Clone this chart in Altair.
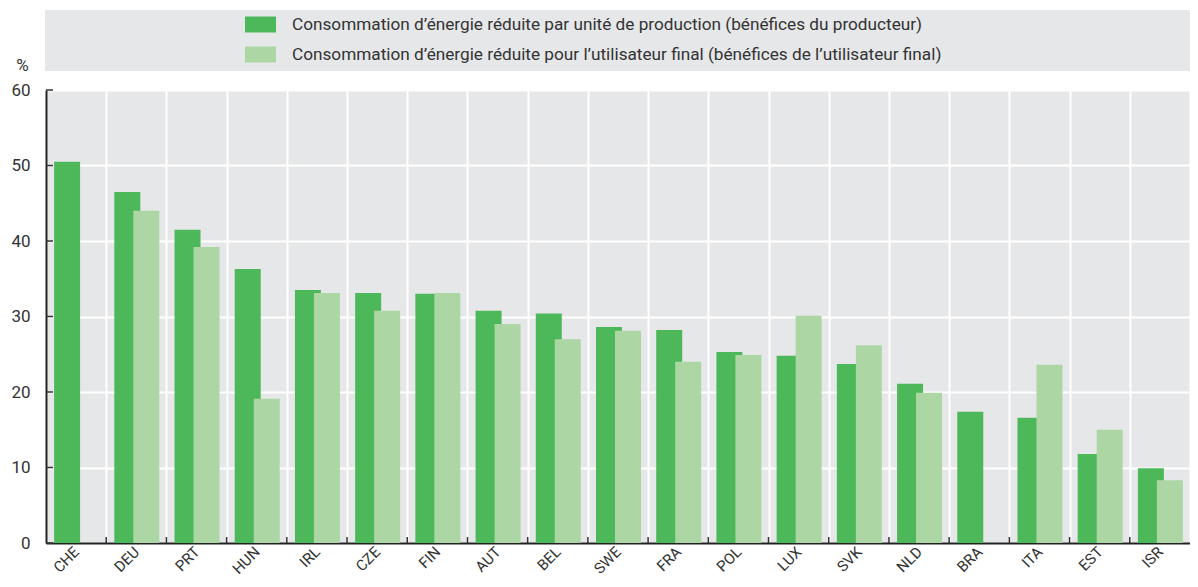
import altair as alt
import pandas as pd

countries = ["CHE", "DEU", "PRT", "HUN", "IRL", "CZE", "FIN", "AUT", "BEL", "SWE",
             "FRA", "POL", "LUX", "SVK", "NLD", "BRA", "ITA", "EST", "ISR"]
producer = [50.5, 46.5, 41.5, 36.3, 33.5, 33.1, 33.0, 30.75, 30.4, 28.6,
            28.2, 25.3, 24.8, 23.7, 21.1, 17.4, 16.6, 11.8, 9.9]
user = [None, 44.0, 39.2, 19.1, 33.1, 30.75, 33.1, 29.0, 27.0, 28.1,
        24.0, 24.9, 30.1, 26.2, 19.9, None, 23.6, 15.0, 8.3]
y_ticks = [0, 10, 20, 30, 40, 50, 60]

series = [
    "Consommation d’énergie réduite par unité de production (bénéfices du producteur)",
    "Consommation d’énergie réduite pour l’utilisateur final (bénéfices de l’utilisateur final)",
]
colors = ["#4db85a", "#acd7a5"]

rows = []
for c, p, u in zip(countries, producer, user):
    rows.append({"country": c, "series": series[0], "value": p})
    if u is not None:
        rows.append({"country": c, "series": series[1], "value": u})
df = pd.DataFrame(rows)

FONT = "Roboto"
W = 1144
H = 453

xscale = alt.Scale(domain=countries, paddingInner=0, paddingOuter=0)
yscale = alt.Scale(domain=[0, 60], nice=False)

x_axis = alt.Axis(title=None, labelAngle=315, labelAlign="right",
                  labelBaseline="middle", labelFontSize=15,
                  labelColor="#333333", labelFont=FONT,
                  labelPadding=6, tickBand="extent", grid=True,
                  gridColor="white", gridWidth=2, ticks=False,
                  domainColor="#222222", domainWidth=2)
y_axis = alt.Axis(title="%", titleAngle=0, titleX=-24, titleY=-20,
                  titleAlign="center", titleBaseline="alphabetic",
                  titleFont=FONT, titleFontSize=17,
                  titleFontWeight="normal", titleColor="#333333",
                  values=y_ticks,
                  labelFontSize=17, labelFont=FONT,
                  labelColor="#333333", labelPadding=16,
                  ticks=False, grid=True, gridColor="white",
                  gridWidth=2, domainColor="#222222",
                  domainWidth=2)

x_enc = alt.X("country:N", sort=countries, scale=xscale, axis=x_axis)
y_enc = alt.Y("value:Q", scale=yscale, axis=y_axis)
color_enc = alt.Color("series:N",
                      scale=alt.Scale(domain=series, range=colors),
                      legend=alt.Legend(title=None, orient="none",
                                        legendX=199, legendY=-81,
                                        direction="vertical",
                                        symbolType="M-1,-0.516H1V0.516H-1Z",
                                        symbolSize=961, symbolStrokeWidth=0,
                                        symbolOpacity=1,
                                        labelFont=FONT, labelFontSize=17.2,
                                        labelColor="#333333", labelOffset=16,
                                        labelLimit=1000, rowPadding=6,
                                        padding=0))

legend_bg = alt.Chart(pd.DataFrame({"a": [0]})).mark_rect(
    color="#e6e7e9", clip=False
).encode(x=alt.value(-1), x2=alt.value(W + 10), y=alt.value(-80), y2=alt.value(-19))

bars_p = alt.Chart(df).transform_filter(
    alt.datum.series == series[0]
).mark_bar(width=26, xOffset=-9).encode(x=x_enc, y=y_enc, color=color_enc)

bars_u = alt.Chart(df).transform_filter(
    alt.datum.series == series[1]
).mark_bar(width=26, xOffset=10).encode(x=x_enc, y=y_enc, color=color_enc)

# small inward tick marks on the y axis
ytick_df = pd.DataFrame({"value": y_ticks})
yticks = alt.Chart(ytick_df).mark_rule(color="#333333", strokeWidth=1.5).encode(
    y=alt.Y("value:Q", scale=yscale, axis=y_axis), x=alt.value(0), x2=alt.value(7)
)

# small upward tick marks at category boundaries on the x axis
xtick_df = pd.DataFrame({"country": countries[1:]})
xticks = alt.Chart(xtick_df).mark_rule(color="#333333", strokeWidth=1.5).encode(
    x=alt.X("country:N", sort=countries, scale=xscale, bandPosition=0, axis=x_axis),
    y=alt.value(H - 6), y2=alt.value(H)
)

chart = alt.layer(legend_bg, bars_p, bars_u, yticks, xticks).properties(
    width=W, height=H,
    autosize=alt.AutoSizeParams(type="none"),
    padding={"left": 38, "top": 82, "right": 0, "bottom": 36},
    background="white",
).configure_view(fill="#e6e7e9", stroke=None)

chart.save("out.html", embed_options={"renderer": "svg", "actions": False})
